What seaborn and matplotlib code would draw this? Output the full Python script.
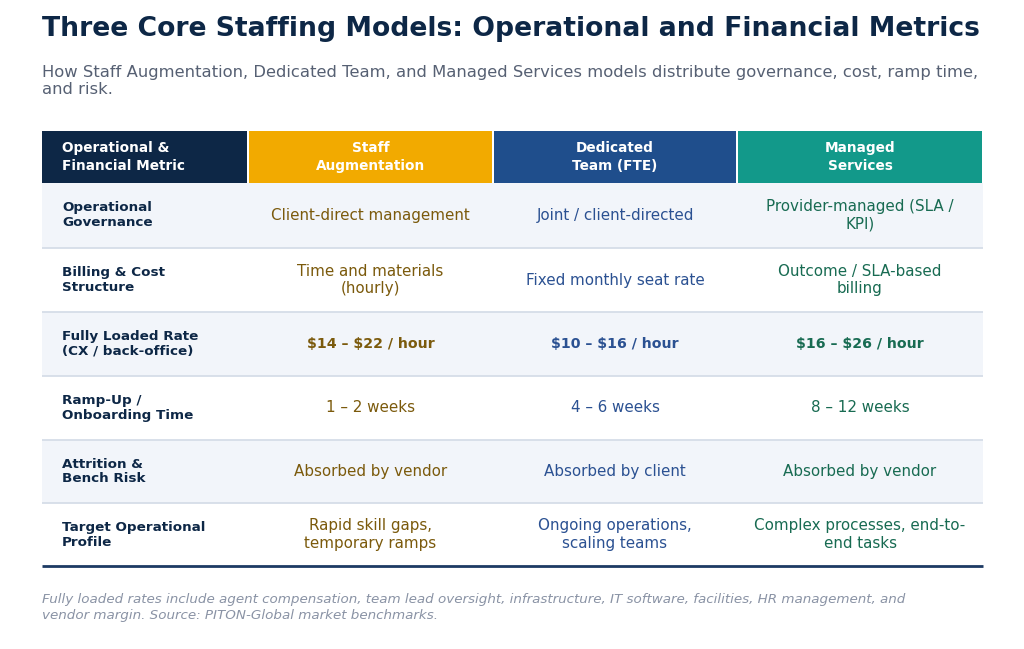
import matplotlib
matplotlib.use("Agg")
import matplotlib.pyplot as plt
from matplotlib.patches import Rectangle
import seaborn as sns

# ---------------- data ----------------
title = "Three Core Staffing Models: Operational and Financial Metrics"
subtitle = ("How Staff Augmentation, Dedicated Team, and Managed Services models distribute governance, cost, ramp time,\n"
            "and risk.")
footnote = ("Fully loaded rates include agent compensation, team lead oversight, infrastructure, IT software, facilities, HR management, and\n"
            "vendor margin. Source: PITON-Global market benchmarks.")

headers = ["Operational &\nFinancial Metric", "Staff\nAugmentation", "Dedicated\nTeam (FTE)", "Managed\nServices"]
metrics = ["Operational\nGovernance", "Billing & Cost\nStructure", "Fully Loaded Rate\n(CX / back-office)",
           "Ramp-Up /\nOnboarding Time", "Attrition &\nBench Risk", "Target Operational\nProfile"]
staff_aug = ["Client-direct management", "Time and materials\n(hourly)", "$14 – $22 / hour",
             "1 – 2 weeks", "Absorbed by vendor", "Rapid skill gaps,\ntemporary ramps"]
dedicated = ["Joint / client-directed", "Fixed monthly seat rate", "$10 – $16 / hour",
             "4 – 6 weeks", "Absorbed by client", "Ongoing operations,\nscaling teams"]
managed = ["Provider-managed (SLA /\nKPI)", "Outcome / SLA-based\nbilling", "$16 – $26 / hour",
           "8 – 12 weeks", "Absorbed by vendor", "Complex processes, end-to-\nend tasks"]
bold_row = 2  # Fully loaded rate row is bold

# ---------------- style ----------------
header_colors = ["#0d2746", "#f2aa00", "#1f4e8c", "#12998a"]
text_colors = ["#0d2746", "#7b5a0c", "#2b5192", "#186b52"]
navy = "#0d2746"
light_bg = "#f2f5fa"
sep_col = "#d6dde8"

# layout (pixels)
W, H = 1024, 649
col_edges = [42, 248, 493, 737, 983]
gap = 2
row_edges = [131, 183, 248, 312, 376, 440, 503, 566]
label_x = 62

sns.set_theme(style="white")
plt.rcParams["font.family"] = ["DejaVu Sans"]

fig = plt.figure(figsize=(W / 100, H / 100), dpi=100)
ax = fig.add_axes([0, 0, 1, 1])
ax.set_xlim(0, W)
ax.set_ylim(H, 0)
ax.axis("off")

renderer = fig.canvas.get_renderer()


def fit_text(x, y, s, size, target_w=None, **kw):
    t = ax.text(x, y, s, fontsize=size, parse_math=False, **kw)
    if target_w is not None:
        bb = t.get_window_extent(renderer=renderer)
        t.set_fontsize(size * target_w / bb.width)
    return t


# title & subtitle
fit_text(42, 36, title, 21, target_w=936, fontweight="bold", color=navy, va="baseline", ha="left")
sub_lines = subtitle.split("\n")
st = fit_text(42, 77, sub_lines[0], 11, target_w=940, color="#566073", va="baseline", ha="left")
ax.text(42, 94, sub_lines[1], fontsize=st.get_fontsize(), color="#566073", va="baseline", ha="left")

# header
for j, (hdr, col) in enumerate(zip(headers, header_colors)):
    x0 = col_edges[j] + (0 if j == 0 else gap / 2)
    x1 = col_edges[j + 1] - gap / 2
    ax.add_patch(Rectangle((x0, row_edges[0]), x1 - x0, row_edges[1] - row_edges[0], color=col, lw=0))
    yc = (row_edges[0] + row_edges[1]) / 2
    if j == 0:
        ax.text(label_x, yc, hdr, ha="left", va="center", color="white", fontsize=9.8,
                fontweight="bold", linespacing=1.3)
    else:
        ax.text((x0 + x1) / 2, yc, hdr, ha="center", va="center", color="white", fontsize=9.8,
                fontweight="bold", linespacing=1.3)

# body
columns = [staff_aug, dedicated, managed]
for i, metric in enumerate(metrics):
    y0, y1 = row_edges[i + 1], row_edges[i + 2]
    if i % 2 == 0:
        ax.add_patch(Rectangle((col_edges[0], y0), col_edges[-1] - col_edges[0], y1 - y0,
                               color=light_bg, lw=0))
    yc = (y0 + y1) / 2
    ax.text(label_x, yc, metric, ha="left", va="center", color=navy, fontsize=9.7,
            fontweight="bold", linespacing=1.2)
    for j, vals in enumerate(columns):
        xc = (col_edges[j + 1] + col_edges[j + 2]) / 2
        ax.text(xc, yc, vals[i], ha="center", va="center", color=text_colors[j + 1],
                fontsize=10.2 if i == bold_row else 10.9,
                fontweight="bold" if i == bold_row else "normal", linespacing=1.2,
                parse_math=False)
    if i < len(metrics) - 1:
        ax.plot([col_edges[0], col_edges[-1]], [y1, y1], color=sep_col, lw=1.3, solid_capstyle="butt")

# bottom rule
ax.plot([col_edges[0], col_edges[-1]], [row_edges[-1], row_edges[-1]], color="#1d3a63", lw=2,
        solid_capstyle="butt")

# footnote
fl = footnote.split("\n")
t = fit_text(42, 603, fl[0], 9.5, target_w=868, color="#8a93a5", style="italic", va="baseline", ha="left")
ax.text(42, 619, fl[1], fontsize=t.get_fontsize(), color="#8a93a5", style="italic", va="baseline", ha="left")

fig.savefig("out.png", dpi=100, facecolor="white")
